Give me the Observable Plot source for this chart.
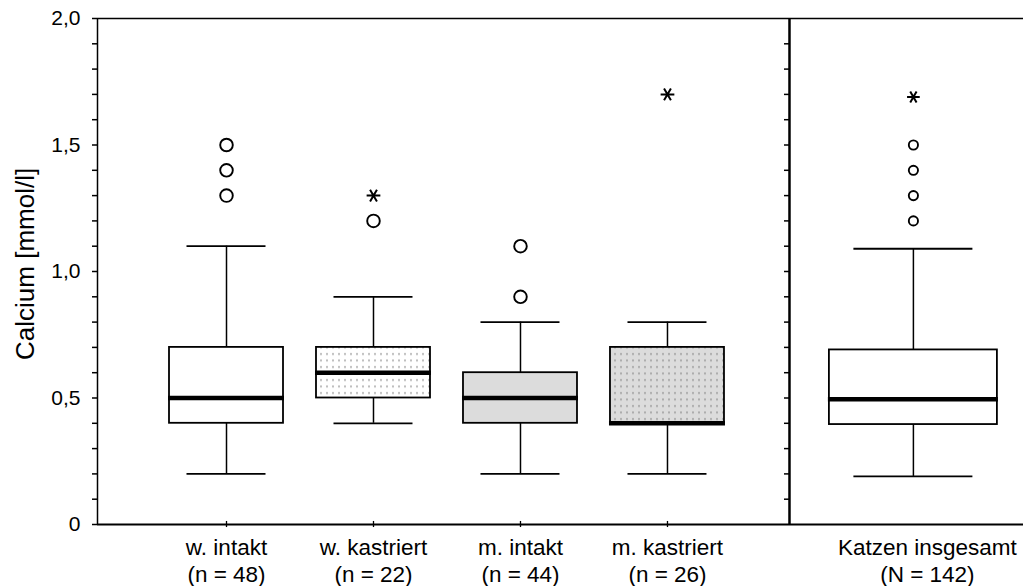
<!DOCTYPE html>
<html>
<head>
<meta charset="utf-8">
<script src="https://cdn.jsdelivr.net/npm/d3@7"></script>
<script src="https://cdn.jsdelivr.net/npm/@observablehq/plot@0.6"></script>
<style>
  html, body { margin: 0; padding: 0; background: white; }
  #chart svg { display: block; }
</style>
</head>
<body>
<div id="chart"></div>
<script>
// ---- data ----
const groups   = ["w. intakt", "w. kastriert", "m. intakt", "m. kastriert"];
const nLabels  = ["(n = 48)", "(n = 22)", "(n = 44)", "(n = 26)"];
const whiskLo  = [0.2, 0.4, 0.2, 0.2];
const q1       = [0.4, 0.5, 0.4, 0.4];
const median   = [0.5, 0.6, 0.5, 0.4];
const q3       = [0.7, 0.7, 0.6, 0.7];
const whiskHi  = [1.1, 0.9, 0.8, 0.8];
const outCircles = [[1.3, 1.4, 1.5], [1.2], [0.9, 1.1], []];
const outExtreme = [[], [1.3], [], [1.7]];

const totalLabel = "Katzen insgesamt";
const totalN     = "(N = 142)";
const totalStats = {lo: 0.19, q1: 0.395, med: 0.495, q3: 0.69, hi: 1.09};
const totalCircles = [1.2, 1.3, 1.4, 1.5];
const totalExtreme = [1.69];

const yTicks = d3.range(0, 21).map(i => i / 10);

// ---- layout / style constants ----
const xMin = 0.1224, xMax = 6.422;     // x domain (group i at i+1)
const unit = 926 / (xMax - xMin);      // px per x unit
const divPos = 4.83, totalPos = 5.673;
const boxFill = ["white", "url(#dotsW)", "#dcdcdc", "url(#dotsG)"];
const font = "'Liberation Sans', Arial, Helvetica, sans-serif";

const boxes = groups.map((g, i) => ({
  pos: i + 1, lo: whiskLo[i], q1: q1[i], med: median[i], q3: q3[i], hi: whiskHi[i],
  w: 114 / unit, cap: 79 / unit, fill: boxFill[i], labelPos: i + 1,
  label: g + "\n" + nLabels[i]
}));
const total = {pos: totalPos, ...totalStats, w: 168 / unit, cap: 119 / unit, fill: "white",
  labelPos: totalPos + 14 / unit, label: totalLabel + "\n" + totalN};
const all = [...boxes, total];

const leftCircles = boxes.flatMap((b, i) => outCircles[i].map(v => ({pos: b.pos, v})));
const leftStars = boxes.flatMap((b, i) => outExtreme[i].map(v => ({pos: b.pos, v})));
const rightCircles = totalCircles.map(v => ({pos: totalPos, v}));
const rightStars = totalExtreme.map(v => ({pos: totalPos, v}));

const fmt = d => d === 0 ? "0" : d.toFixed(1).replace(".", ",");

const marks = [
  // frame lines
  Plot.ruleY([2], {stroke: "black", strokeWidth: 1.5}),
  Plot.ruleY([0], {stroke: "black", strokeWidth: 1.8}),
  Plot.ruleX([xMin], {y1: 0, y2: 2, stroke: "black", strokeWidth: 1.5}),
  Plot.ruleX([divPos], {y1: 0, y2: 2, stroke: "black", strokeWidth: 2.5}),
  // y axis
  Plot.axisY(yTicks, {tickSize: 5, tickPadding: 12, fontSize: 21,
    tickFormat: d => (Math.round(d * 10) % 5 === 0 ? fmt(d) : ""), label: null,
    stroke: "black", strokeWidth: 1.5}),
  // ticks on divider
  Plot.ruleY(yTicks.filter(d => d > 0 && d < 2), {y: d => d, x1: divPos - 5 / unit, x2: divPos,
    stroke: "black", strokeWidth: 1.5}),
  // x ticks for left groups
  Plot.ruleX(boxes, {x: "pos", y1: -0.012, y2: 0.012, stroke: "black", strokeWidth: 1.3}),
  // whiskers
  Plot.ruleX(all, {x: "pos", y1: "q3", y2: "hi", stroke: "black", strokeWidth: 1.5}),
  Plot.ruleX(all, {x: "pos", y1: "lo", y2: "q1", stroke: "black", strokeWidth: 1.5}),
  Plot.ruleY(all, {y: "hi", x1: d => d.pos - d.cap / 2, x2: d => d.pos + d.cap / 2, stroke: "black", strokeWidth: 1.8}),
  Plot.ruleY(all, {y: "lo", x1: d => d.pos - d.cap / 2, x2: d => d.pos + d.cap / 2, stroke: "black", strokeWidth: 1.8}),
  // boxes
  ...all.map(b => Plot.rect([b], {x1: d => d.pos - d.w / 2, x2: d => d.pos + d.w / 2, y1: "q1", y2: "q3",
    fill: b.fill, stroke: "black", strokeWidth: 1.8})),
  // medians
  Plot.ruleY(all, {y: "med", x1: d => d.pos - d.w / 2 - 1 / unit, x2: d => d.pos + d.w / 2 + 1 / unit,
    stroke: "black", strokeWidth: 4.5}),
  // outliers
  Plot.dot(leftCircles, {x: "pos", y: "v", r: 6.3, symbol: "circle", fill: "white", stroke: "black", strokeWidth: 1.9}),
  Plot.dot(leftStars, {x: "pos", y: "v", r: 6.5, symbol: "asterisk", rotate: 90, stroke: "black", strokeWidth: 2}),
  Plot.dot(rightCircles, {x: "pos", y: "v", r: 4.6, symbol: "circle", fill: "white", stroke: "black", strokeWidth: 1.9}),
  Plot.dot(rightStars, {x: "pos", y: "v", r: 6, symbol: "asterisk", rotate: 90, stroke: "black", strokeWidth: 2}),
  // x labels
  Plot.text(all, {x: "labelPos", y: 0, text: "label", dy: 11, lineAnchor: "top", fontSize: 22.5, lineHeight: 1.2, fill: "black"}),
  // y label
  Plot.text(["Calcium [mmol/l]"], {x: xMin - 72 / unit, y: 1.03, text: d => d, rotate: -90, fontSize: 26, fill: "black"})
];

const chart = Plot.plot({
  width: 1023,
  height: 586,
  marginLeft: 97,
  marginRight: 0,
  marginTop: 18,
  marginBottom: 62,
  x: {domain: [xMin, xMax], axis: null},
  y: {domain: [0, 2]},
  style: {fontFamily: font, fontSize: "20px", color: "black", background: "white", overflow: "visible"},
  marks
});

// dotted fill patterns
const svg = d3.select(chart);
const defs = svg.insert("defs", ":first-child");
[["dotsW", "white"], ["dotsG", "#dcdcdc"]].forEach(([id, bg]) => {
  const p = defs.append("pattern").attr("id", id).attr("width", 6).attr("height", 6.5)
    .attr("patternUnits", "userSpaceOnUse");
  p.append("rect").attr("width", 6).attr("height", 6.5).attr("fill", bg);
  p.append("rect").attr("x", 2.5).attr("y", 2).attr("width", 1).attr("height", 2).attr("fill", "#7a7a7a");
});

document.getElementById("chart").appendChild(chart);
</script>
</body>
</html>
